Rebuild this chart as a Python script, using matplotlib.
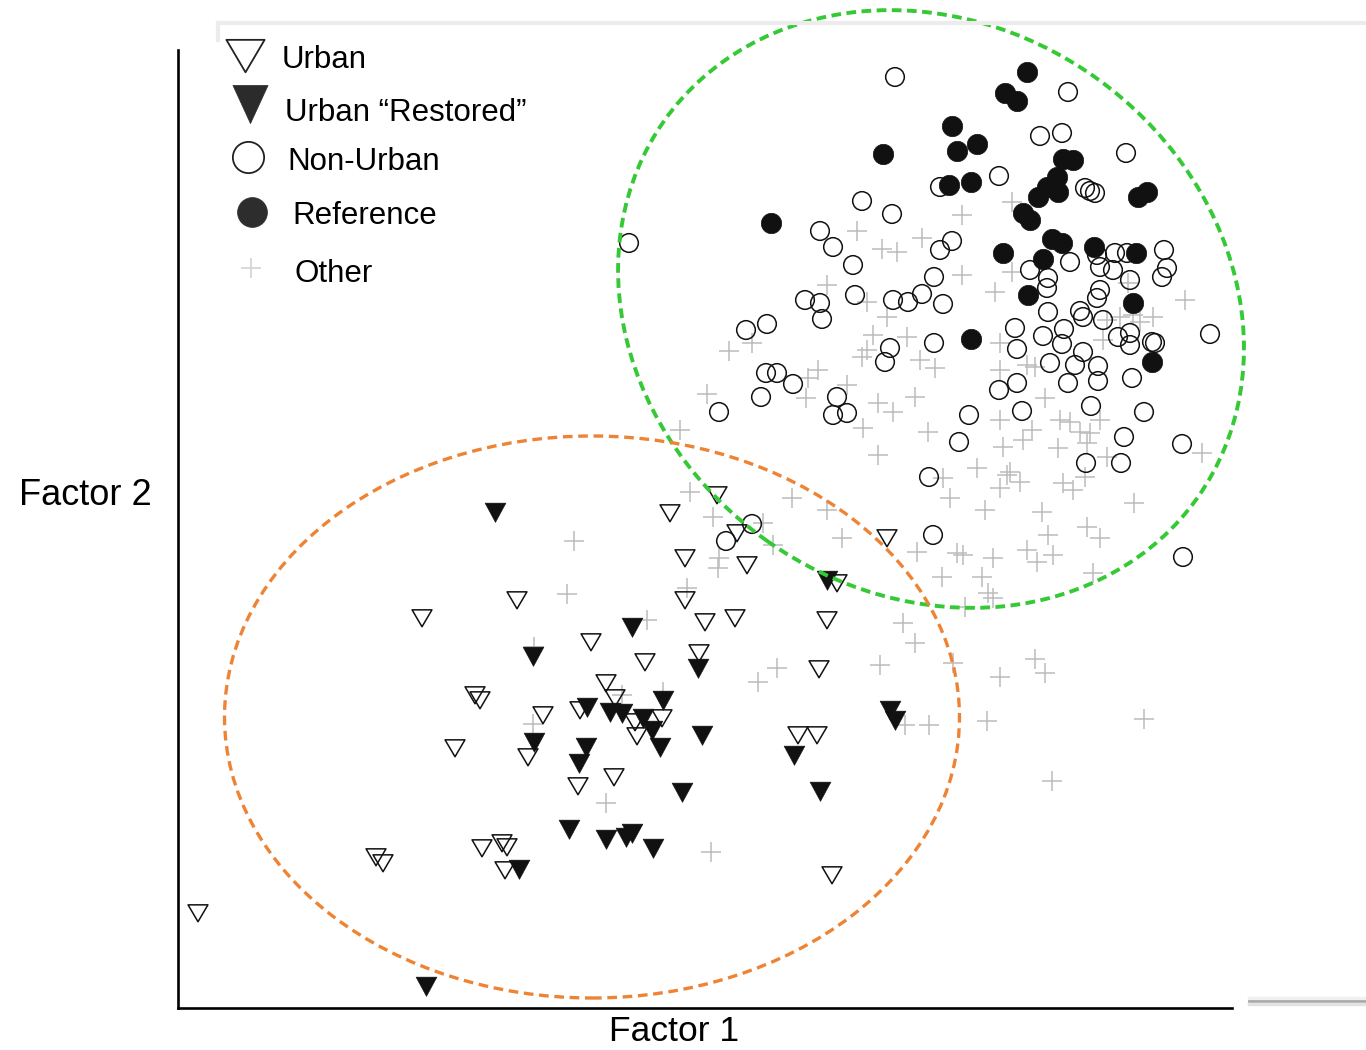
import numpy as np
import matplotlib
matplotlib.use("Agg")
import matplotlib.pyplot as plt
from matplotlib.patches import Ellipse
from matplotlib.path import Path
from matplotlib.lines import Line2D

plt.rcParams["font.family"] = ["Liberation Sans", "DejaVu Sans"]

# ---------------------------------------------------------------------------
# Ordination scores (Factor 1, Factor 2) per site group, arbitrary units
# ---------------------------------------------------------------------------
reference = [
    (883, 896), (771, 827), (1027, 978), (1005, 957), (1017, 949), (952, 924),
    (957, 899), (977, 906), (949, 865), (971, 868), (1063, 891), (1073, 890),
    (1057, 873), (1047, 863), (1058, 858), (1038, 853), (1138, 853), (1147, 858),
    (1023, 837), (1030, 830), (1003, 797), (1052, 811), (1062, 807), (1043, 791),
    (1094, 803), (1136, 797), (1028, 755), (1133, 747), (971, 711), (1152, 688),
]

non_urban = [
    (895, 973), (862, 849), (892, 836), (820, 819), (833, 803), (853, 785),
    (629, 807), (1068, 958), (1040, 914), (1062, 917), (1126, 897), (999, 874),
    (940, 863), (1085, 862), (1090, 859), (1095, 857), (952, 809), (940, 800),
    (1070, 788), (1030, 780), (1048, 772), (1097, 795), (1115, 797), (1127, 797),
    (1164, 800), (1167, 782), (1162, 773), (1100, 783), (1113, 780), (1130, 770),
    (934, 773), (855, 755), (805, 750), (820, 747), (822, 731), (893, 750),
    (746, 720), (767, 726), (890, 702), (885, 688), (766, 677), (777, 677),
    (793, 666), (761, 653), (719, 638), (837, 653), (833, 635), (847, 637),
    (908, 748), (922, 756), (943, 746), (934, 707), (1015, 722), (1017, 701),
    (1047, 762), (1048, 738), (1043, 714), (1064, 721), (1062, 706), (1080, 739),
    (1083, 733), (1097, 752), (1100, 760), (1103, 730), (1118, 713), (1130, 717),
    (1130, 705), (1152, 708), (1155, 707), (1210, 716), (1083, 698), (1050, 687),
    (1075, 685), (1098, 684), (1098, 669), (1068, 667), (1132, 672), (1017, 667),
    (999, 660), (1022, 639), (969, 635), (1091, 644), (1144, 638), (959, 608),
    (1124, 613), (1182, 606), (1086, 587), (1121, 587), (929, 573), (752, 526),
    (726, 509), (933, 515), (1183, 493),
]

urban = [
    (717, 555), (670, 537), (737, 517), (685, 492), (747, 485), (685, 450),
    (705, 428), (735, 432), (827, 430), (887, 512), (837, 467), (422, 432),
    (475, 355), (480, 350), (455, 302), (376, 193), (383, 187), (482, 202),
    (502, 207), (507, 203), (505, 180), (198, 137), (517, 450), (591, 408),
    (645, 388), (699, 397), (606, 367), (615, 352), (580, 340), (635, 328),
    (662, 332), (637, 314), (543, 335), (528, 293), (614, 273), (578, 264),
    (819, 381), (798, 315), (817, 315), (832, 175),
]

urban_restored = [
    (495, 538), (426, 64), (632, 423), (533, 394), (698, 382), (663, 350),
    (587, 343), (610, 338), (622, 337), (643, 332), (652, 320), (660, 303),
    (702, 315), (534, 308), (586, 303), (579, 287), (682, 258), (569, 221),
    (606, 211), (626, 213), (632, 217), (653, 202), (519, 181), (794, 295),
    (820, 259), (890, 340), (895, 330), (827, 470),
]

other = [
    (857, 819), (882, 801), (897, 798), (827, 765), (962, 835), (1012, 848),
    (922, 812), (962, 775), (1012, 778), (1128, 767), (867, 748), (752, 707),
    (729, 699), (887, 733), (873, 715), (867, 700), (862, 693), (818, 680),
    (808, 672), (806, 652), (707, 656), (847, 665), (863, 622), (878, 647),
    (893, 638), (878, 595), (680, 620), (690, 558), (792, 552), (827, 540),
    (713, 533), (995, 758), (1185, 750), (915, 653), (928, 618), (935, 682),
    (920, 690), (907, 713), (1000, 707), (1000, 680), (1027, 685), (1035, 683),
    (1045, 652), (1000, 630), (1032, 620), (1023, 610), (1003, 603), (1058, 602),
    (1060, 630), (1070, 628), (1080, 618), (1090, 617), (1100, 630), (1107, 593),
    (1087, 607), (1202, 597), (977, 582), (1010, 578), (1020, 568), (1000, 562),
    (950, 552), (943, 572), (1063, 567), (1073, 560), (1085, 573), (1134, 547),
    (985, 540), (1042, 538), (1107, 730), (1120, 733), (1133, 735), (1153, 733),
    (1140, 728), (1103, 710), (719, 492), (718, 482), (687, 462), (647, 430),
    (842, 512), (773, 505), (763, 527), (917, 498), (942, 473), (903, 427),
    (957, 497), (1007, 575), (1048, 515), (1087, 523), (1100, 512), (963, 495),
    (993, 492), (1027, 500), (1037, 488), (1053, 495), (982, 473), (988, 457),
    (993, 452), (965, 443), (1093, 477), (574, 509), (567, 456), (534, 403),
    (622, 355), (663, 358), (533, 326), (606, 247), (711, 198), (777, 382),
    (758, 368), (915, 407), (880, 385), (953, 387), (1000, 373), (1035, 391),
    (1045, 377), (905, 325), (929, 325), (987, 329), (1144, 331), (1052, 269),
]

legend_labels = ["Urban", "Urban \u201cRestored\u201d", "Non-Urban", "Reference", "Other"]

# Group ellipses: (centre F1, centre F2, width, height, angle)
nonurban_ellipse = (931, 741, 653, 568, -35.3)
urban_ellipse = (592, 333, 735, 562, 0.0)

GREEN = "#35c935"
ORANGE = "#ee8334"
PLUS_GREY = "#bcbcbc"
INK = "#111111"

W, H = 1366, 1050
fig = plt.figure(figsize=(W / 100, H / 100), dpi=100)


def fxy(px, py):
    """Pixel position (from top-left) to figure fraction."""
    return px / W, 1 - py / H


ax_left, ax_right, ax_top, ax_bottom = 178, 1232, 50, 1008
ax = fig.add_axes([ax_left / W, 1 - ax_bottom / H,
                   (ax_right - ax_left) / W, (ax_bottom - ax_top) / H])
ax.set_xlim(ax_left, ax_right)
ax.set_ylim(H - ax_bottom, H - ax_top)
ax.set_xticks([])
ax.set_yticks([])
for side in ("top", "right"):
    ax.spines[side].set_visible(False)
for side in ("left", "bottom"):
    ax.spines[side].set_linewidth(1.9)
    ax.spines[side].set_color("#000000")
ax.patch.set_alpha(0)

# Triangle-down markers: a little wider than tall
tri_open = Path([(-1, 0.82), (1, 0.82), (0, -0.88), (-1, 0.82)],
                [Path.MOVETO, Path.LINETO, Path.LINETO, Path.CLOSEPOLY])
tri_fill = Path([(-1, 0.9), (1, 0.9), (0, -0.95), (-1, 0.9)],
                [Path.MOVETO, Path.LINETO, Path.LINETO, Path.CLOSEPOLY])


def xy(points):
    arr = np.asarray(points, dtype=float)
    return arr[:, 0], arr[:, 1]


x, y = xy(other)
ax.scatter(x, y, marker="+", s=200, c=PLUS_GREY, linewidths=1.1, zorder=2, clip_on=False)

x, y = xy(non_urban)
ax.scatter(x, y, marker="o", s=180, facecolors="none", edgecolors=INK,
           linewidths=1.1, zorder=3, clip_on=False)

x, y = xy(reference)
ax.scatter(x, y, marker="o", s=215, c=INK, edgecolors=INK, linewidths=0.5,
           zorder=4, clip_on=False)

x, y = xy(urban)
ax.scatter(x, y, marker=tri_open, s=205, facecolors="none", edgecolors=INK,
           linewidths=1.1, zorder=3, clip_on=False)

x, y = xy(urban_restored)
ax.scatter(x, y, marker=tri_fill, s=225, c=INK, edgecolors=INK, linewidths=0.4,
           zorder=4, clip_on=False)

# Group ellipses drawn on top of the points
for (cx, cy, w, h, ang), col, lw, dash in (
        (nonurban_ellipse, GREEN, 2.8, (2.5, 1.4)),
        (urban_ellipse, ORANGE, 2.4, (2.9, 1.7))):
    ax.add_patch(Ellipse((cx, cy), w, h, angle=ang, fill=False, edgecolor=col,
                         linewidth=lw, linestyle=(0, dash), zorder=6, clip_on=False))

# Legend, built by hand
legend_rows = [
    # marker centre, text x, text baseline
    ((245, 55), (282, 68)),
    ((250, 104), (285, 121)),
    ((248, 157), (287, 170)),
    ((252, 212), (292, 224)),
    ((251, 268), (294, 282)),
]
legend_styles = [
    dict(marker=tri_open, markersize=27.5, markerfacecolor="none",
         markeredgecolor="#222222", markeredgewidth=1.3),
    dict(marker=Path([(-0.92, 1), (0.92, 1), (0, -1), (-0.92, 1)],
                     [Path.MOVETO, Path.LINETO, Path.LINETO, Path.CLOSEPOLY]),
         markersize=27.5, markerfacecolor="#2b2b2b", markeredgecolor="#2b2b2b",
         markeredgewidth=0.5),
    dict(marker="o", markersize=22.5, markerfacecolor="none",
         markeredgecolor="#222222", markeredgewidth=1.3),
    dict(marker="o", markersize=21.5, markerfacecolor="#2d2d2d",
         markeredgecolor="#2d2d2d", markeredgewidth=0.5),
    dict(marker="+", markersize=14, markeredgecolor="#d6d6d6", markeredgewidth=1.3),
]
for label, ((mx, my), (tx, ty)), style in zip(legend_labels, legend_rows, legend_styles):
    fx, fy = fxy(mx, my)
    fig.add_artist(Line2D([fx], [fy], transform=fig.transFigure, linestyle="none", **style))
    gx, gy = fxy(tx, ty)
    fig.text(gx, gy, label, fontsize=22.5, color="#000000", ha="left", va="baseline")

# Axis titles
fx, fy = fxy(85, 505)
fig.text(fx, fy, "Factor 2", fontsize=26, ha="center", va="baseline")
fx, fy = fxy(674, 1041)
fig.text(fx, fy, "Factor 1", fontsize=25.5, ha="center", va="baseline")

# Faint panel frame edges
x0, y0 = fxy(218, 23)
x1, _ = fxy(1366, 23)
fig.add_artist(Line2D([x0, x1], [y0, y0], transform=fig.transFigure,
                      color="#ececec", linewidth=3))
_, y2 = fxy(218, 40)
fig.add_artist(Line2D([x0, x0], [y0, y2], transform=fig.transFigure,
                      color="#ececec", linewidth=3))
x0, y0 = fxy(1249, 998)
x1, _ = fxy(1366, 998)
fig.add_artist(Line2D([x0, x1], [y0, y0], transform=fig.transFigure,
                      color="#f0f0f0", linewidth=2.5))
_, y1 = fxy(1249, 1001)
fig.add_artist(Line2D([x0, x1], [y1, y1], transform=fig.transFigure,
                      color="#a8a8a8", linewidth=2))
_, y1 = fxy(1249, 1004)
fig.add_artist(Line2D([x0, x1], [y1, y1], transform=fig.transFigure,
                      color="#e2e2e2", linewidth=2.5))

fig.savefig("out.png", dpi=100)
